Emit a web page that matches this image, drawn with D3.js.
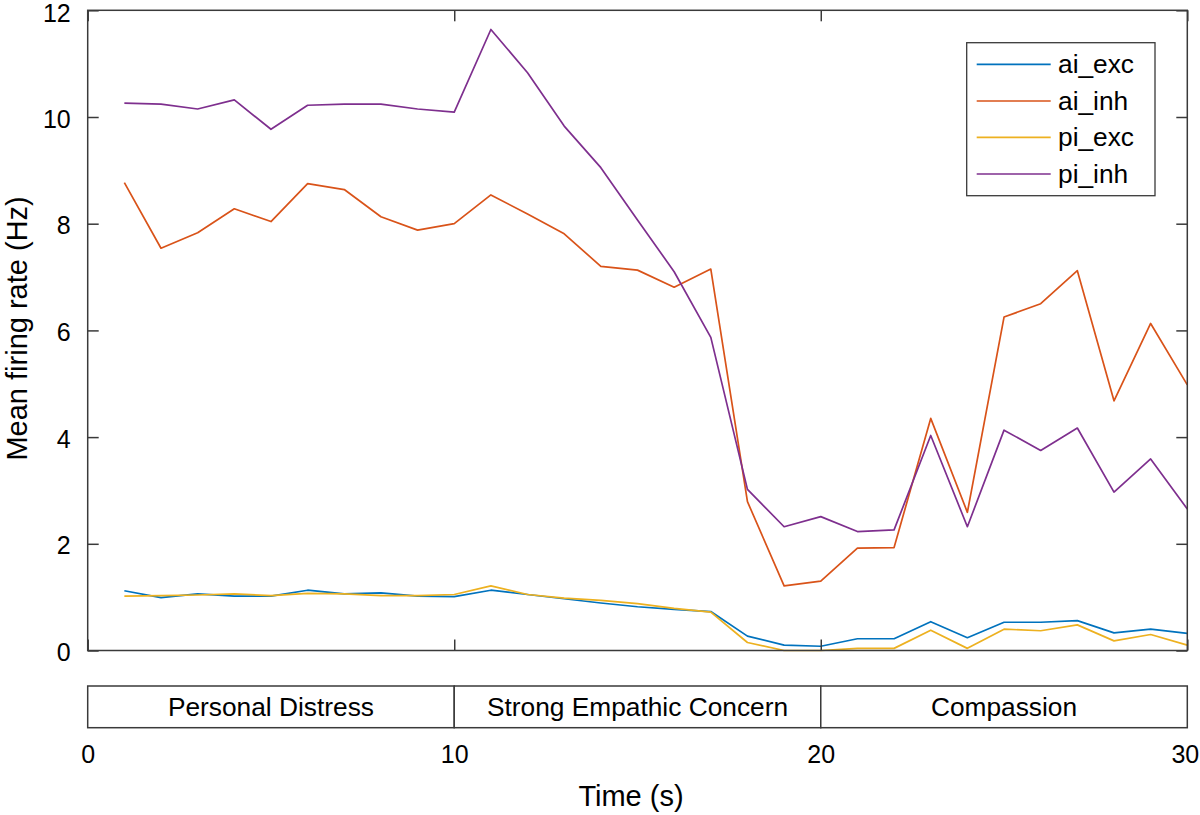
<!DOCTYPE html>
<html>
<head>
<meta charset="utf-8">
<script src="https://cdn.jsdelivr.net/npm/d3@7"></script>
<style>
  body { margin: 0; background: #fff; }
  svg { display: block; font-family: "Liberation Sans", Arial, Helvetica, sans-serif; }
</style>
</head>
<body>
<div id="chart"></div>
<script>
// time in seconds
const time = [1, 2, 3, 4, 5, 6, 7, 8, 9, 10, 11, 12, 13, 14, 15,
  16, 17, 18, 19, 20, 21, 22, 23, 24, 25, 26, 27, 28, 29, 30];

const aiExc = [1.12, 0.99, 1.06, 1.02, 1.02, 1.13, 1.06, 1.08, 1.02, 1.01, 1.13, 1.05, 0.97, 0.89, 0.82,
  0.77, 0.73, 0.27, 0.10, 0.08, 0.22, 0.22, 0.54, 0.24, 0.53, 0.53, 0.56, 0.33, 0.40, 0.32];
const aiInh = [8.77, 7.54, 7.83, 8.28, 8.04, 8.75, 8.64, 8.13, 7.88, 8.00, 8.54, 8.18, 7.81, 7.20, 7.13,
  6.81, 7.15, 2.79, 1.21, 1.30, 1.92, 1.93, 4.35, 2.59, 6.25, 6.50, 7.12, 4.68, 6.13, 4.98];
const piExc = [1.02, 1.03, 1.04, 1.06, 1.03, 1.07, 1.06, 1.03, 1.03, 1.05, 1.21, 1.05, 0.98, 0.94, 0.88,
  0.79, 0.72, 0.15, 0.00, 0.00, 0.04, 0.04, 0.38, 0.04, 0.40, 0.37, 0.48, 0.18, 0.30, 0.10];
const piInh = [10.26, 10.24, 10.15, 10.32, 9.77, 10.22, 10.24, 10.24, 10.15, 10.09, 11.64, 10.83, 9.83, 9.05, 8.07,
  7.10, 5.87, 3.02, 2.32, 2.51, 2.23, 2.26, 4.03, 2.32, 4.13, 3.75, 4.17, 2.97, 3.59, 2.65];

const seriesNames = ['ai_exc', 'ai_inh', 'pi_exc', 'pi_inh'];
const seriesColors = ['#0072BD', '#D95319', '#EDB120', '#7E2F8E'];

// phases shown in the strip under the plot
const phaseNames = ['Personal Distress', 'Strong Empathic Concern', 'Compassion'];
const phaseStarts = [0, 10, 20];
const phaseEnds = [10, 20, 30];

const xTicks = [0, 10, 20, 30];
const yTicks = [0, 2, 4, 6, 8, 10, 12];

const W = 1200, H = 815;
const plotL = 87.7, plotR = 1187.3, plotT = 10.3, plotB = 650.5;
const bandTop = 686, bandBottom = 727.7;
const tickLen = 11;
const axisColor = '#3a3a3a';
const fontFamily = '"Liberation Sans", Arial, sans-serif';

const svg = d3.select('#chart').append('svg')
  .attr('width', W)
  .attr('height', H);

const x = d3.scaleLinear().domain([0, 30]).range([plotL, plotR]);
const y = d3.scaleLinear().domain([0, 12]).range([plotB, plotT]);

// Lines
const allSeries = [aiExc, aiInh, piExc, piInh];
const line = d3.line()
  .x((d, i) => x(time[i]))
  .y(d => y(d));

allSeries.forEach((vals, k) => {
  svg.append('path')
    .datum(vals)
    .attr('fill', 'none')
    .attr('stroke', seriesColors[k])
    .attr('stroke-width', 1.7)
    .attr('stroke-linejoin', 'round')
    .attr('d', line);
});

// Axes (MATLAB-style box with inward ticks)
svg.append('g')
  .attr('transform', `translate(${plotL},0)`)
  .call(d3.axisLeft(y).tickValues(yTicks).tickSize(-tickLen).tickPadding(tickLen + 6))
  .call(g => g.select('.domain').remove())
  .call(g => g.selectAll('line').attr('stroke', axisColor).attr('stroke-width', 1.5))
  .call(g => g.selectAll('text')
    .attr('fill', '#000')
    .attr('dy', d => d === 12 ? '0.45em' : '0.4em')
    .style('font-size', '25px')
    .style('font-family', fontFamily));

svg.append('g')
  .attr('transform', `translate(${plotR},0)`)
  .call(d3.axisRight(y).tickValues(yTicks).tickSize(-tickLen).tickFormat(''))
  .call(g => g.select('.domain').remove())
  .call(g => g.selectAll('line').attr('stroke', axisColor).attr('stroke-width', 1.5));

svg.append('g')
  .attr('transform', `translate(0,${plotB})`)
  .call(d3.axisBottom(x).tickValues(xTicks).tickSize(-tickLen).tickFormat(''))
  .call(g => g.select('.domain').remove())
  .call(g => g.selectAll('line').attr('stroke', axisColor).attr('stroke-width', 1.5));

svg.append('g')
  .attr('transform', `translate(0,${plotT})`)
  .call(d3.axisTop(x).tickValues(xTicks).tickSize(-tickLen).tickFormat(''))
  .call(g => g.select('.domain').remove())
  .call(g => g.selectAll('line').attr('stroke', axisColor).attr('stroke-width', 1.5));

svg.append('rect')
  .attr('x', plotL)
  .attr('y', plotT)
  .attr('width', plotR - plotL)
  .attr('height', plotB - plotT)
  .attr('fill', 'none')
  .attr('stroke', axisColor)
  .attr('stroke-width', 1.5);

// Y label
svg.append('text')
  .attr('transform', `translate(27,${(plotT + plotB) / 2 - 2}) rotate(-90)`)
  .attr('text-anchor', 'middle')
  .style('font-size', '29px')
  .text('Mean firing rate (Hz)');

// Legend
const legendX = 966.7, legendY = 42.7, legendW = 188.3, legendH = 153;
const rowY = [64.3, 101, 137.3, 174];
const legend = svg.append('g');
legend.append('rect')
  .attr('x', legendX)
  .attr('y', legendY)
  .attr('width', legendW)
  .attr('height', legendH)
  .attr('fill', '#fff')
  .attr('stroke', axisColor)
  .attr('stroke-width', 1.3);

seriesNames.forEach((name, k) => {
  legend.append('line')
    .attr('x1', 976.7)
    .attr('x2', 1050.7)
    .attr('y1', rowY[k])
    .attr('y2', rowY[k])
    .attr('stroke', seriesColors[k])
    .attr('stroke-width', 1.7);
  legend.append('text')
    .attr('x', 1058)
    .attr('y', rowY[k])
    .attr('dominant-baseline', 'central')
    .style('font-size', '26.3px')
    .text(name);
});

// Phase strip
const band = svg.append('g');
band.selectAll('rect')
  .data(phaseNames)
  .enter()
  .append('rect')
  .attr('x', (d, i) => x(phaseStarts[i]))
  .attr('y', bandTop)
  .attr('width', (d, i) => x(phaseEnds[i]) - x(phaseStarts[i]))
  .attr('height', bandBottom - bandTop)
  .attr('fill', '#fff')
  .attr('stroke', axisColor)
  .attr('stroke-width', 1.5);

band.selectAll('text')
  .data(phaseNames)
  .enter()
  .append('text')
  .attr('x', (d, i) => (x(phaseStarts[i]) + x(phaseEnds[i])) / 2)
  .attr('y', (bandTop + bandBottom) / 2)
  .attr('text-anchor', 'middle')
  .attr('dominant-baseline', 'central')
  .style('font-size', '26.3px')
  .text(d => d);

// X tick labels under the strip
svg.append('g')
  .attr('transform', `translate(0,${bandBottom})`)
  .call(d3.axisBottom(x).tickValues(xTicks).tickSize(0).tickPadding(18))
  .call(g => g.select('.domain').remove())
  .call(g => g.selectAll('text')
    .attr('fill', '#000')
    .attr('dx', d => d === 30 ? -2.5 : 0)
    .style('font-size', '25px')
    .style('font-family', fontFamily));

// X label
svg.append('text')
  .attr('x', 631)
  .attr('y', 806)
  .attr('text-anchor', 'middle')
  .style('font-size', '29px')
  .text('Time (s)');
</script>
</body>
</html>
